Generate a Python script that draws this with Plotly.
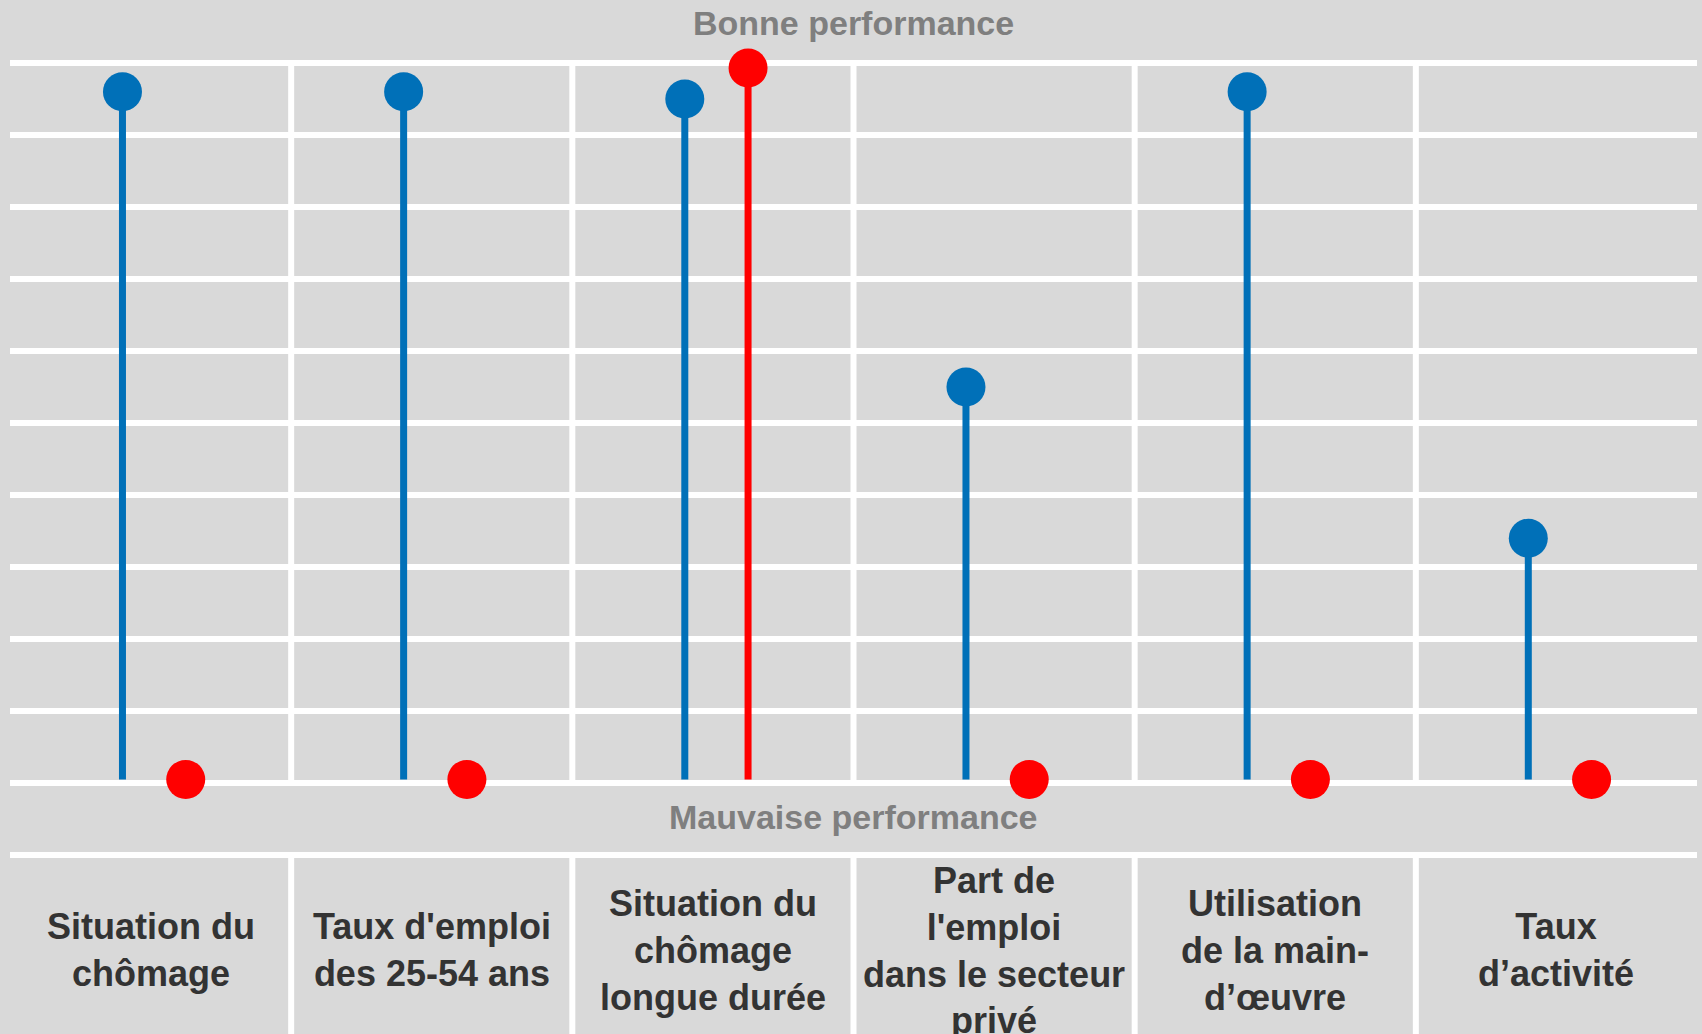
import plotly.graph_objects as go

# ---- data ----
categories = [
    "Situation du<br>chômage",
    "Taux d'emploi<br>des 25-54 ans",
    "Situation du<br>chômage<br>longue durée",
    "Part de<br>l'emploi<br>dans le secteur<br>privé",
    "Utilisation<br>de la main-<br>d’œuvre",
    "Taux<br>d’activité",
]
blue_values = [9.6, 9.6, 9.5, 5.5, 9.6, 3.4]
red_values = [0.05, 0.05, 9.93, 0.05, 0.05, 0.05]
top_label = "Bonne performance"
bottom_label = "Mauvaise performance"

# ---- style ----
BG = "#d9d9d9"
BLUE = "#0070b8"
RED = "#ff0000"
FONT = "Liberation Sans, Arial, sans-serif"
blue_offset = 0.40
red_offset = 0.625
baseline = 0.05
W, H = 1702, 1034
TOP = 56
PX_PER_UNIT = 72.0
ymin = -(H - 783) / PX_PER_UNIT
ymax = 10 + 7 / PX_PER_UNIT

n = len(categories)
bx = [i + blue_offset for i in range(n)]
rx = [i + red_offset for i in range(n)]


def stems(xs, ys, base):
    sx, sy = [], []
    for x, y in zip(xs, ys):
        sx += [x, x, None]
        sy += [base, y, None]
    return sx, sy


fig = go.Figure()
for xs, ys, col in [(bx, blue_values, BLUE), (rx, red_values, RED)]:
    sx, sy = stems(xs, ys, baseline)
    fig.add_trace(go.Scatter(x=sx, y=sy, mode="lines",
                             line=dict(color=col, width=7),
                             hoverinfo="skip", showlegend=False, cliponaxis=False))
    fig.add_trace(go.Scatter(x=xs, y=ys, mode="markers",
                             marker=dict(color=col, size=39, line=dict(width=0)),
                             showlegend=False, cliponaxis=False))

shapes = []
for i in range(1, n):
    shapes.append(dict(type="line", xref="x", yref="y", x0=i, x1=i, y0=0, y1=10,
                       line=dict(color="white", width=6), layer="below"))
    shapes.append(dict(type="line", xref="x", yref="y", x0=i, x1=i, y0=-1, y1=ymin,
                       line=dict(color="white", width=6), layer="below"))

annotations = []
for i, c in enumerate(categories):
    annotations.append(dict(x=i + 0.5, y=-2.32, xref="x", yref="y", text=c,
                            showarrow=False, xanchor="center", yanchor="middle",
                            font=dict(family=FONT, size=36, color="#333333", weight="bold")))
annotations.append(dict(x=0.5, y=(H - 23) / (H - TOP), xref="paper", yref="paper",
                        text=top_label, showarrow=False, yanchor="middle",
                        font=dict(family=FONT, size=34, color="#7f7f7f", weight="bold")))
annotations.append(dict(x=0.5, y=-0.47, xref="paper", yref="y",
                        text=bottom_label, showarrow=False, yanchor="middle",
                        font=dict(family=FONT, size=34, color="#7f7f7f", weight="bold")))

fig.update_layout(
    width=W, height=H,
    margin=dict(l=10, r=5, t=TOP, b=0),
    paper_bgcolor=BG, plot_bgcolor=BG,
    xaxis=dict(range=[0, n], showgrid=False, zeroline=False, showticklabels=False,
               ticks="", showline=False, fixedrange=True),
    yaxis=dict(range=[ymin, ymax], tickvals=[-1] + list(range(0, 11)),
               showgrid=True, gridcolor="white", gridwidth=6, zeroline=False,
               showticklabels=False, ticks="", showline=False, fixedrange=True),
    shapes=shapes, annotations=annotations,
    showlegend=False,
)

fig.write_html(
    "out.html",
    config={"displayModeBar": False},
    post_script="document.body.style.margin='0';document.body.style.background='%s';" % BG,
)
